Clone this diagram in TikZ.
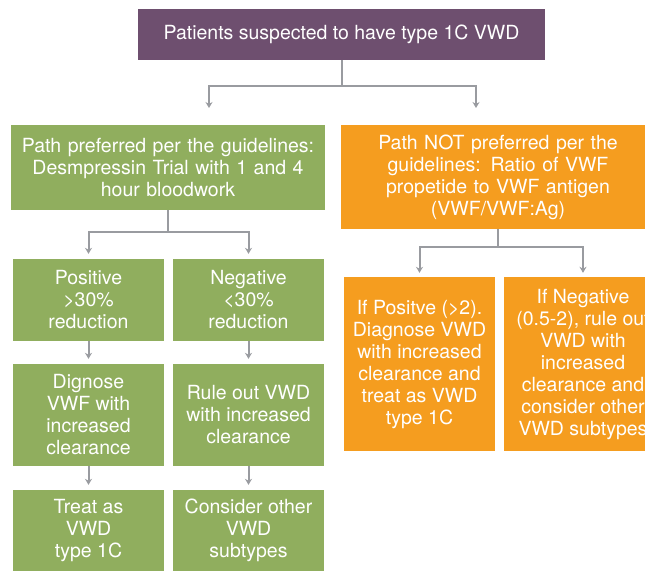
\documentclass[tikz,border=0pt]{standalone}
\usepackage{fontspec}
\setmainfont{TeX Gyre Heros}
\usepackage{tikz}
\usetikzlibrary{positioning}
\usetikzlibrary{arrows.meta}
\definecolor{vwdpurple}{HTML}{6E4F6F}
\definecolor{vwdgreen}{HTML}{90AE5E}
\definecolor{vwdorange}{HTML}{F59D1F}
\definecolor{vwdgray}{HTML}{999BA0}
\tikzstyle{box}=[inner sep=0pt,align=center,text=white,
                 font=\fontsize{19.5}{22}\selectfont]
\tikzstyle{greenbox}=[box,fill=vwdgreen]
\tikzstyle{orangebox}=[box,fill=vwdorange]
\tikzset{>={Stealth[length=6pt,width=7pt]}}
\tikzstyle{link}=[->,vwdgray,line width=2pt]

\begin{document}
\begin{tikzpicture}[x=1pt,y=-1pt]

\clip (0,0) rectangle (645,571);

% Top box
\node[box,fill=vwdpurple,minimum width=407,minimum height=51] (top) at (341.5,34.5)
  {Patients suspected to have type 1C VWD};

% Second row
\node[greenbox,minimum width=314,minimum height=85,text width=310] (pref) at (168,167.5)
  {Path preferred per the guidelines:\\ Desmpressin Trial with 1 and 4\\ hour bloodwork};
\node[orangebox,minimum width=314,minimum height=104,text width=310] (notpref) at (498,177)
  {Path NOT preferred per the\\ guidelines: Ratio of VWF\\ propetide to VWF antigen\\ (VWF/VWF:Ag)};

% Preferred path
\node[greenbox,minimum width=151,minimum height=82] (pos) at (88.5,300)
  {Positive\\ >30\%\\ reduction};
\node[greenbox,minimum width=151,minimum height=82] (neg) at (248.5,300)
  {Negative\\ <30\%\\ reduction};
\node[greenbox,minimum width=151,minimum height=102] (dx) at (88.5,415)
  {Dignose\\ VWF with\\ increased\\ clearance};
\node[greenbox,minimum width=151,minimum height=102] (rule) at (248.5,415)
  {Rule out VWD\\ with increased\\ clearance};
\node[greenbox,minimum width=151,minimum height=81] (treat) at (88.5,530.5)
  {Treat as\\ VWD\\ type 1C};
\node[greenbox,minimum width=151,minimum height=81] (other) at (248.5,530.5)
  {Consider other\\ VWD\\ subtypes};

% Not preferred path
\node[orangebox,minimum width=151,minimum height=174] (ipos) at (419.5,364)
  {If Positve (>2).\\ Diagnose VWD\\ with increased\\ clearance and\\ treat as VWD\\ type 1C};
\node[orangebox,minimum width=158,minimum height=174] (ineg) at (583,364)
  {If Negative\\ (0.5-2), rule out\\ VWD with\\ increased\\ clearance and\\ consider other\\ VWD subtypes};

% Connectors
\coordinate (a1) at (209,108);
\coordinate (a2) at (476,108);
\draw[link] (top.south) -- ++(0,26) -| (a1);
\draw[link] (top.south) -- ++(0,26) -| (a2);

\draw[link,shorten >=5pt] (pref.south) -- ++(0,22) -| (pos.north);
\draw[link,shorten >=5pt] (pref.south) -- ++(0,22) -| (neg.north);
\draw[link,shorten >=5pt] (pos) -- (dx);
\draw[link,shorten >=5pt] (neg) -- (rule);
\draw[link,shorten >=5pt] (dx) -- (treat);
\draw[link,shorten >=5pt] (rule) -- (other);

\draw[link,shorten >=4pt] (notpref.south) -- ++(0,18) -| (ipos.north);
\draw[link,shorten >=4pt] (notpref.south) -- ++(0,18) -| (ineg.north);

\end{tikzpicture}
\end{document}
